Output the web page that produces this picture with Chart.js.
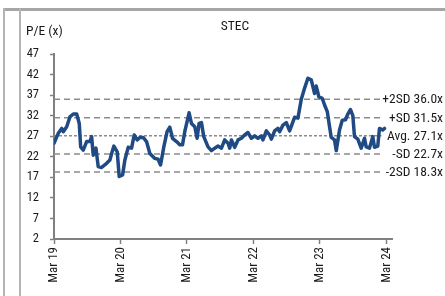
<!DOCTYPE html>
<html>
<head>
<meta charset="utf-8">
<script src="https://cdn.jsdelivr.net/npm/chart.js@4.4.1/dist/chart.umd.min.js"></script>
<style>
  html, body { margin: 0; padding: 0; background: #fff; }
  #wrap { position: relative; width: 445px; height: 296px; overflow: hidden; }
  #c { position: absolute; left: 0; top: 0; }
  .frame { position: absolute; background: #a6a6a6; }
</style>
</head>
<body>
<div id="wrap">
  <canvas id="c" width="445" height="296"></canvas>
  <div class="frame" style="left:3px; top:8px; width:442px; height:3px;"></div>
  <div class="frame" style="left:3px; top:8px; width:2px; height:288px; background:#b4b4b4;"></div>
  <div class="frame" style="left:19px; top:8px; width:2px; height:288px; background:#b4b4b4;"></div>
</div>
<script>
// ---- Data ----
const chartTitle = 'STEC';
const yAxisTitle = 'P/E (x)';
const tickLabels = ['Mar 19', 'Mar 20', 'Mar 21', 'Mar 22', 'Mar 23', 'Mar 24'];
const tickMonths = [0, 12, 24, 36, 48, 60];   // months since Mar 19
const yTicks = [2, 7, 12, 17, 22, 27, 32, 37, 42, 47];

// months since Mar 2019
const months = [0.0, 0.77, 1.39, 1.68, 2.29, 2.88, 3.48, 4.09, 4.56, 4.81, 5.28, 5.89, 6.49, 6.79, 7.08, 7.57, 7.98, 8.59, 9.5, 10.09, 10.4, 10.81, 11.41, 11.77, 12.38, 12.79, 13.39, 14.0, 14.47, 15.01, 15.5, 16.09, 16.7, 17.3, 18.2, 18.79, 19.23, 19.82, 20.41, 20.9, 21.39, 22.11, 22.7, 23.19, 23.6, 24.38, 24.81, 25.41, 25.82, 26.18, 26.61, 27.03, 27.8, 28.41, 29.01, 29.6, 30.22, 30.81, 31.41, 31.71, 32.02, 32.61, 33.21, 33.82, 34.41, 35.01, 35.62, 36.22, 36.81, 37.42, 37.71, 38.32, 38.92, 39.23, 39.82, 40.41, 40.72, 41.32, 41.93, 42.52, 43.42, 44.02, 44.63, 45.23, 45.82, 46.43, 47.03, 47.33, 47.8, 48.41, 48.83, 49.32, 49.73, 50.04, 50.63, 50.94, 51.53, 52.02, 52.61, 53.03, 53.51, 53.93, 54.23, 54.83, 55.44, 56.04, 56.34, 56.94, 57.53, 57.84, 58.43, 58.74, 59.33, 59.64];
const pe = [25.3, 27.7, 28.9, 28.1, 29.3, 31.7, 32.4, 32.4, 30.1, 24.4, 23.6, 25.7, 25.7, 26.9, 22.4, 24.1, 19.6, 19.4, 20.4, 21.2, 22.8, 24.6, 23.2, 17.2, 17.6, 21.2, 24.3, 24.1, 27.3, 26.1, 26.7, 26.7, 25.7, 22.8, 21.6, 21.4, 20.0, 24.4, 28.1, 29.2, 26.5, 25.7, 24.9, 24.9, 28.1, 32.7, 30.1, 29.3, 26.5, 30.1, 30.3, 26.9, 24.4, 23.5, 24.1, 24.6, 24.1, 26.1, 25.3, 24.1, 26.1, 24.3, 26.1, 26.5, 27.3, 27.9, 26.5, 27.1, 26.5, 27.1, 26.1, 28.3, 27.3, 26.3, 28.3, 28.9, 28.1, 29.7, 30.3, 28.3, 31.6, 31.4, 36.0, 38.7, 41.1, 40.7, 37.4, 39.2, 36.6, 36.2, 34.6, 33.0, 29.3, 26.7, 26.1, 23.5, 28.5, 30.9, 31.0, 32.4, 33.5, 32.0, 26.9, 26.3, 24.1, 26.5, 24.4, 24.1, 26.9, 24.3, 24.6, 28.9, 28.5, 28.9];

const bandNames = ['+2SD', '+SD', 'Avg.', '-SD', '-2SD'];
const bandValues = [36.0, 31.5, 27.1, 22.7, 18.3];
const bandStart = 0, bandEnd = 59.1; // months

// ---- Styles ----
const FONT = "'Liberation Sans Narrow', 'Arial Narrow', 'Roboto Condensed', 'DejaVu Sans Condensed', sans-serif";
const AXIS = '#808080';
const LINE = '#1f4a84';
const DASH = '#8c8c8c';

const mainData = months.map((m, i) => ({ x: m, y: pe[i] }));
const bandSets = bandValues.map((v, i) => ({
  data: [{ x: bandStart, y: v }, { x: bandEnd, y: v }],
  borderColor: DASH,
  borderWidth: 1.5,
  borderDash: bandNames[i] === 'Avg.' ? [3, 2] : [6, 4],
  pointRadius: 0,
  fill: false
}));

const textPlugin = {
  id: 'texts',
  afterDraw(chart) {
    const ctx = chart.ctx;
    const ys = chart.scales.y;
    ctx.save();
    ctx.fillStyle = '#1a1a1a';
    ctx.font = '13.5px ' + FONT;
    ctx.textAlign = 'center';
    ctx.textBaseline = 'alphabetic';
    ctx.fillText(chartTitle, 235, 29.5);
    ctx.textAlign = 'left';
    ctx.fillText(yAxisTitle, 26, 35);
    ctx.textAlign = 'right';
    ctx.textBaseline = 'middle';
    bandValues.forEach((v, i) => {
      ctx.fillText(bandNames[i] + ' ' + v.toFixed(1) + 'x', 443, ys.getPixelForValue(v) + 0.5);
    });
    ctx.restore();
  }
};

new Chart(document.getElementById('c'), {
  type: 'line',
  data: {
    datasets: [{
      data: mainData,
      borderColor: LINE,
      borderWidth: 3.5,
      pointRadius: 0,
      tension: 0,
      fill: false,
      borderJoinStyle: 'round',
      borderCapStyle: 'round'
    }].concat(bandSets)
  },
  options: {
    responsive: false,
    animation: false,
    devicePixelRatio: 1,
    layout: { padding: { left: 0, top: 54, right: 53, bottom: 0 } },
    plugins: { legend: { display: false }, tooltip: { enabled: false }, title: { display: false } },
    scales: {
      x: {
        type: 'linear',
        min: 0,
        max: 61,
        afterBuildTicks(scale) { scale.ticks = tickMonths.map(v => ({ value: v })); },
        afterFit(scale) { scale.height = 57; },
        ticks: {
          autoSkip: false,
          minRotation: 90,
          maxRotation: 90,
          padding: 3,
          color: '#1a1a1a',
          font: { family: FONT, size: 13 },
          callback(v) { const i = tickMonths.indexOf(v); return i >= 0 ? tickLabels[i] : ''; }
        },
        grid: { display: true, drawOnChartArea: false, drawTicks: true, tickLength: 5, tickColor: AXIS, tickWidth: 1.5 },
        border: { display: true, color: AXIS, width: 2 }
      },
      y: {
        min: 2,
        max: 47,
        afterBuildTicks(scale) { scale.ticks = yTicks.map(v => ({ value: v })); },
        afterFit(scale) { scale.width = 54; },
        ticks: {
          padding: 11,
          color: '#1a1a1a',
          font: { family: FONT, size: 12.5 }
        },
        grid: { display: true, drawOnChartArea: false, drawTicks: true, tickLength: 4, tickColor: AXIS, tickWidth: 1.5 },
        border: { display: true, color: AXIS, width: 2 }
      }
    }
  },
  plugins: [textPlugin]
});
</script>
</body>
</html>
